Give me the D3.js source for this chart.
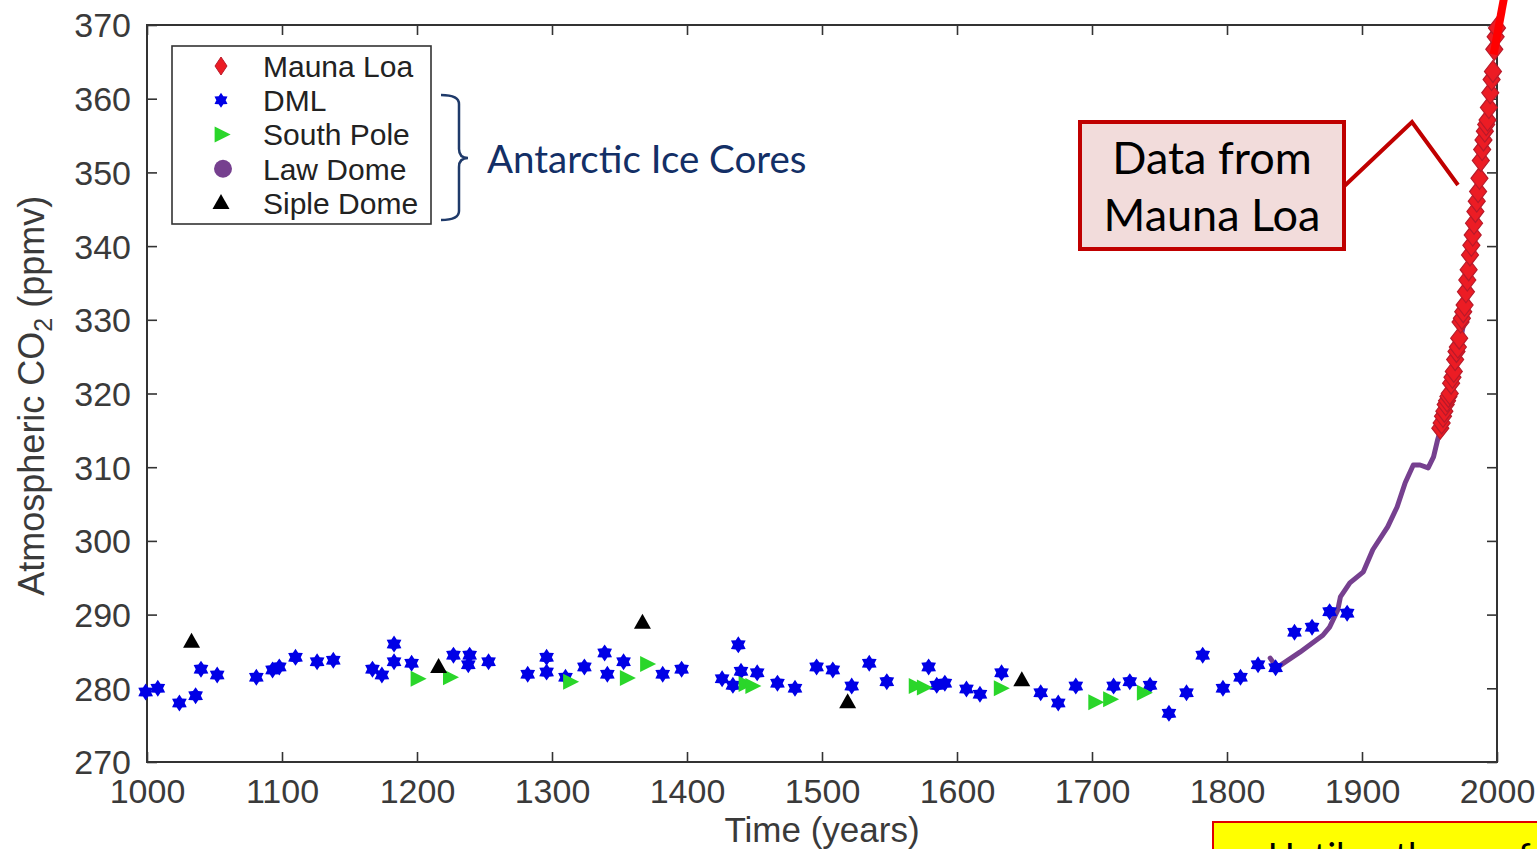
<!DOCTYPE html>
<html>
<head>
<meta charset="utf-8">
<script src="https://cdn.jsdelivr.net/npm/d3@7"></script>
<style>
  html, body { margin: 0; padding: 0; background: #fff; overflow: hidden; }
  svg { display: block; }
</style>
</head>
<body>
<svg id="chart" width="1537" height="849"></svg>
<script>
// ---- Axis ticks ----
const yearTicks = [1000, 1100, 1200, 1300, 1400, 1500, 1600, 1700, 1800, 1900, 2000];
const ppmTicks = [270, 280, 290, 300, 310, 320, 330, 340, 350, 360, 370];

// ---- Ice-core and instrument records: [year, CO2 ppmv] ----
const dmlData = [
  [999, 279.5], [1008, 280.0], [1024, 278.0], [1036, 279.0], [1040, 282.6], [1052, 281.8],
  [1081, 281.5], [1093, 282.5], [1098, 282.9], [1110, 284.2], [1126, 283.6], [1138, 283.8],
  [1167, 282.6], [1174, 281.8], [1183, 286.0], [1183, 283.6], [1196, 283.4], [1227, 284.5],
  [1239, 284.5], [1238, 283.2], [1253, 283.6], [1282, 281.9], [1296, 284.2], [1296, 282.2],
  [1310, 281.5], [1324, 282.9], [1339, 284.8], [1341, 281.9], [1353, 283.6], [1382, 281.9],
  [1396, 282.6], [1426, 281.3], [1434, 280.4], [1438, 285.9], [1440, 282.3], [1452, 282.1],
  [1467, 280.7], [1480, 280.0], [1496, 282.9], [1508, 282.5], [1522, 280.3], [1535, 283.4],
  [1548, 280.9], [1579, 282.9], [1585, 280.4], [1591, 280.7], [1607, 279.9], [1617, 279.2],
  [1633, 282.1], [1662, 279.4], [1675, 278.0], [1688, 280.3], [1716, 280.3], [1728, 280.9],
  [1743, 280.4], [1757, 276.6], [1770, 279.4], [1782, 284.5], [1797, 280.0], [1810, 281.5],
  [1823, 283.2], [1836, 282.8], [1850, 287.6], [1863, 288.3], [1876, 290.4], [1889, 290.2]
];
const southPoleData = [
  [1200, 281.3], [1224, 281.5], [1313, 280.9], [1355, 281.4], [1370, 283.3], [1443, 280.6],
  [1448, 280.3], [1569, 280.3], [1575, 280.1], [1632, 280.0], [1702, 278.1], [1713, 278.5],
  [1738, 279.4]
];
const sipleDomeData = [
  [1033, 286.3], [1216, 282.9], [1367, 288.9], [1519, 278.1], [1648, 281.1]
];
const lawDomeData = [
  [1832, 284.1], [1837, 282.8], [1854, 284.9], [1871, 287.2], [1876, 288.3], [1882, 290.6],
  [1884, 292.4], [1891, 294.3], [1901, 295.8], [1908, 298.8], [1919, 301.9], [1926, 304.6],
  [1932, 307.9], [1938, 310.3], [1943, 310.3], [1949, 309.9], [1953, 311.4], [1956, 313.7],
  [1958, 315.0], [1964, 318.5], [1970, 324.5], [1978, 332.0]
];
const maunaLoaData = [
  [1958, 315.3], [1959, 316.0], [1960, 316.9], [1961, 317.6], [1962, 318.5], [1963, 319.0],
  [1964, 319.6], [1965, 320.0], [1966, 321.4], [1967, 322.2], [1968, 323.0], [1969, 324.6],
  [1970, 325.7], [1971, 326.3], [1972, 327.5], [1973, 329.7], [1974, 330.2], [1975, 331.1],
  [1976, 332.0], [1977, 333.8], [1978, 335.4], [1979, 336.8], [1980, 338.8], [1981, 340.1],
  [1982, 341.5], [1983, 343.1], [1984, 344.7], [1985, 346.1], [1986, 347.4], [1987, 349.2],
  [1988, 351.6], [1989, 353.1], [1990, 354.4], [1991, 355.6], [1992, 356.5], [1993, 357.1],
  [1994, 358.8], [1995, 360.8], [1996, 362.6], [1997, 363.7], [1998, 366.7], [1999, 368.4],
  [2000, 369.6]
];

const legendNames = ["Mauna Loa", "DML", "South Pole", "Law Dome", "Siple Dome"];

// ---- Colours ----
const colMauna = "#ec1c24", colMaunaEdge = "#b81a2a";
const colDML = "#0000e6";
const colSouth = "#2ad62a";
const colLaw = "#76408f";
const colSiple = "#000000";
const colAxis = "#333333";

// ---- Scales ----
const margin = { left: 147, right: 1497, top: 25, bottom: 762 };
const x = d3.scaleLinear().domain([1000, 2000]).range([margin.left, margin.right]);
const y = d3.scaleLinear().domain([270, 370]).range([margin.bottom, margin.top]);

const svg = d3.select("#chart");

// ---- Marker shapes ----
function hexagram(r) {
  const pts = [];
  for (let k = 0; k < 12; k++) {
    const a = (-90 + k * 30) * Math.PI / 180;
    const rr = k % 2 === 0 ? r : r * 0.62;
    pts.push([rr * Math.cos(a), rr * Math.sin(a)]);
  }
  return "M" + pts.map(p => p.join(",")).join("L") + "Z";
}
function diamond(w, h) {
  return `M0,${-h / 2}L${w / 2},0L0,${h / 2}L${-w / 2},0Z`;
}
function triUp(w, h) {
  return `M0,${-h * 0.6}L${w / 2},${h * 0.4}L${-w / 2},${h * 0.4}Z`;
}
function triRight(w, h) {
  return `M${w * 0.6},0L${-w * 0.4},${h / 2}L${-w * 0.4},${-h / 2}Z`;
}

// ---- Axes (MATLAB style box with inward ticks) ----
const tickFont = "'Liberation Sans', Arial, Helvetica, sans-serif";

const gx = svg.append("g").attr("transform", `translate(0,${margin.bottom})`)
  .call(d3.axisBottom(x).tickValues(yearTicks).tickFormat(d3.format("d"))
    .tickSize(-10).tickSizeOuter(0).tickPadding(17));
const gy = svg.append("g").attr("transform", `translate(${margin.left},0)`)
  .call(d3.axisLeft(y).tickValues(ppmTicks).tickFormat(d3.format("d"))
    .tickSize(-10).tickSizeOuter(0).tickPadding(16));
const gxt = svg.append("g").attr("transform", `translate(0,${margin.top})`)
  .call(d3.axisTop(x).tickValues(yearTicks).tickSize(-10).tickSizeOuter(0).tickFormat(""));
const gyr = svg.append("g").attr("transform", `translate(${margin.right},0)`)
  .call(d3.axisRight(y).tickValues(ppmTicks).tickSize(-10).tickSizeOuter(0).tickFormat(""));

[gx, gy, gxt, gyr].forEach(g => {
  g.select(".domain").remove();
  g.selectAll(".tick line").attr("stroke", colAxis).attr("stroke-width", 1.6);
  g.selectAll(".tick text").attr("fill", "#3a3a3a").style("font-family", tickFont).style("font-size", "34px");
});
gy.selectAll(".tick text").attr("dy", "0.35em");

svg.append("rect")
  .attr("x", margin.left).attr("y", margin.top)
  .attr("width", margin.right - margin.left).attr("height", margin.bottom - margin.top)
  .attr("fill", "none").attr("stroke", colAxis).attr("stroke-width", 2);

// Axis titles
svg.append("text")
  .attr("x", x(1500)).attr("y", 842)
  .attr("text-anchor", "middle")
  .style("font-family", tickFont).style("font-size", "35px").attr("fill", "#3a3a3a")
  .text("Time (years)");

const yTitle = svg.append("text")
  .attr("transform", `translate(44,${y(319.7)}) rotate(-90)`)
  .attr("text-anchor", "middle")
  .style("font-family", tickFont).style("font-size", "36px").attr("fill", "#3a3a3a");
yTitle.append("tspan").text("Atmospheric CO");
yTitle.append("tspan").attr("baseline-shift", "-30%").style("font-size", "25px").text("2");
yTitle.append("tspan").text(" (ppmv)");

// ---- Data marks ----
const plot = svg.append("g");

// Law Dome (dense record drawn as a thick path)
plot.append("path")
  .datum(lawDomeData)
  .attr("d", d3.line().x(d => x(d[0])).y(d => y(d[1])).curve(d3.curveLinear))
  .attr("fill", "none").attr("stroke", colLaw).attr("stroke-width", 5)
  .attr("stroke-linejoin", "round").attr("stroke-linecap", "round");

plot.selectAll(".dml").data(dmlData).enter().append("path")
  .attr("class", "dml")
  .attr("transform", d => `translate(${x(d[0])},${y(d[1])})`)
  .attr("d", hexagram(8.5)).attr("fill", colDML);

plot.selectAll(".sp").data(southPoleData).enter().append("path")
  .attr("class", "sp")
  .attr("transform", d => `translate(${x(d[0])},${y(d[1])})`)
  .attr("d", triRight(16, 16)).attr("fill", colSouth);

plot.selectAll(".siple").data(sipleDomeData).enter().append("path")
  .attr("class", "siple")
  .attr("transform", d => `translate(${x(d[0])},${y(d[1])})`)
  .attr("d", triUp(17, 15)).attr("fill", colSiple);

plot.selectAll(".ml").data(maunaLoaData).enter().append("path")
  .attr("class", "ml")
  .attr("transform", d => `translate(${x(d[0])},${y(d[1])})`)
  .attr("d", diamond(17, 22)).attr("fill", colMauna)
  .attr("stroke", colMaunaEdge).attr("stroke-width", 1.2);

// Continuation stroke above the frame
svg.append("line")
  .attr("x1", x(1997.5)).attr("y1", y(366))
  .attr("x2", x(2005.5)).attr("y2", y(374))
  .attr("stroke", "#ff0000").attr("stroke-width", 8).attr("stroke-linecap", "butt");

// ---- Legend ----
const lg = svg.append("g");
lg.append("rect").attr("x", 172).attr("y", 46).attr("width", 259).attr("height", 178)
  .attr("fill", "#fff").attr("stroke", colAxis).attr("stroke-width", 1.6);
const legendShapes = [
  { d: diamond(12, 18), fill: colMauna, stroke: colMaunaEdge },
  { d: hexagram(7.5), fill: colDML },
  { d: triRight(16, 16), fill: colSouth },
  { d: null, fill: colLaw },
  { d: triUp(17, 15), fill: colSiple }
];
const rowY = d3.scalePoint().domain(legendNames).range([66, 203]);
legendNames.forEach((name, i) => {
  const s = legendShapes[i];
  if (s.d) {
    lg.append("path").attr("transform", `translate(221,${rowY(name)})`)
      .attr("d", s.d).attr("fill", s.fill).attr("stroke", s.stroke || "none");
  } else {
    lg.append("circle").attr("cx", 223).attr("cy", rowY(name)).attr("r", 9).attr("fill", s.fill);
  }
  lg.append("text").attr("x", 263).attr("y", rowY(name)).attr("dy", "0.36em")
    .style("font-family", tickFont).style("font-size", "30px").attr("fill", "#222")
    .text(name);
});

// Bracket grouping the ice-core series
svg.append("path")
  .attr("d", "M441,95 Q459,95 459,104 L459,149 Q459,158 468,158 Q459,158 459,167 L459,211 Q459,220 441,220")
  .attr("fill", "none").attr("stroke", "#1f3a6a").attr("stroke-width", 2.5);
svg.append("text").attr("x", 487).attr("y", 173)
  .style("font-family", "Lato, 'Open Sans', sans-serif").style("font-size", "38.5px")
  .attr("fill", "#132f66").text("Antarctic Ice Cores");

// ---- Callout for the instrument record ----
svg.append("polyline")
  .attr("points", "1337,193 1412,122 1458,185")
  .attr("fill", "none").attr("stroke", "#c00000").attr("stroke-width", 4);
svg.append("rect").attr("x", 1080).attr("y", 122).attr("width", 264).attr("height", 127)
  .attr("fill", "#f2dcdb").attr("stroke", "#c00000").attr("stroke-width", 4);
const call = svg.append("text").attr("text-anchor", "middle")
  .style("font-family", "Lato, 'Open Sans', sans-serif").style("font-size", "45px").attr("fill", "#000");
call.append("tspan").attr("x", 1212).attr("y", 174).text("Data from");
call.append("tspan").attr("x", 1212).attr("y", 231).text("Mauna Loa");

// ---- Note box at the lower right ----
svg.append("rect").attr("x", 1213).attr("y", 822).attr("width", 360).attr("height", 80)
  .attr("fill", "#ffff00").attr("stroke", "#e00000").attr("stroke-width", 2);
const note = svg.append("text")
  .style("font-family", "Lato, 'Open Sans', sans-serif").style("font-size", "36px").attr("fill", "#000");
note.append("tspan").attr("x", 1268).attr("y", 869).text("Until");
note.append("tspan").attr("x", 1395).attr("y", 869).text("the");
note.append("tspan").attr("x", 1518).attr("y", 869).text("f");
</script>
</body>
</html>
